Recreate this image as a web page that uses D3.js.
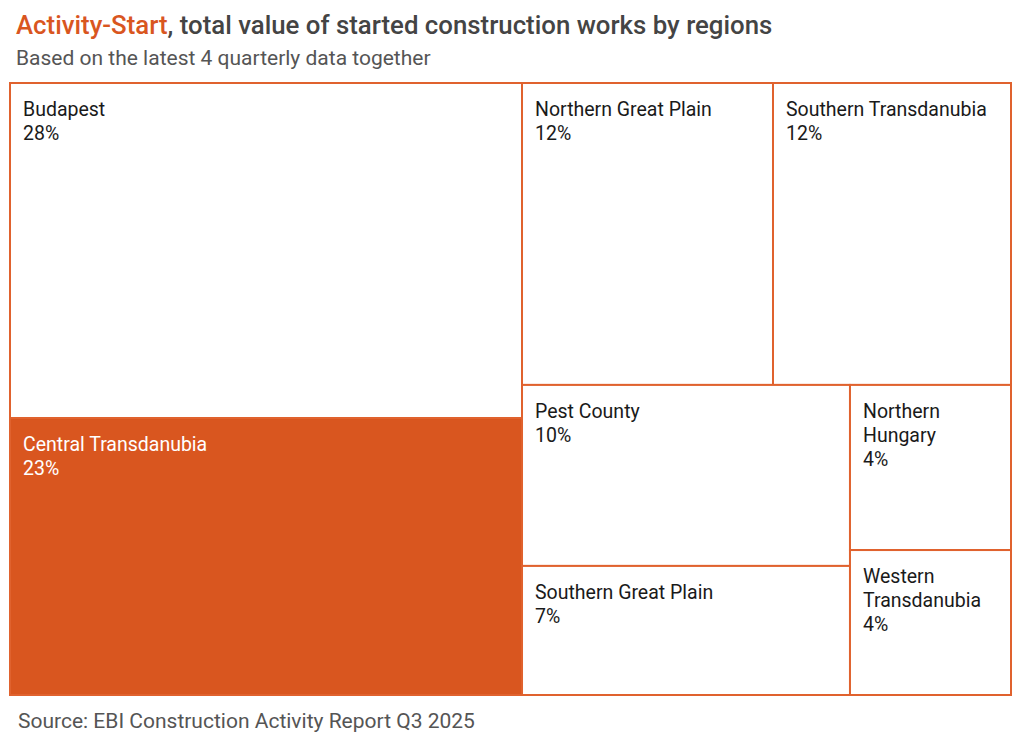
<!DOCTYPE html>
<html>
<head>
<meta charset="utf-8">
<script src="https://cdn.jsdelivr.net/npm/d3@7"></script>
<style>
  body { margin: 0; background: #fff; font-family: Roboto, "Noto Sans", sans-serif; }
</style>
</head>
<body>
<div id="wrapper"></div>
<script>
// shares in % (labels show them rounded)
const regions = ["Budapest", "Central Transdanubia", "Northern Great Plain", "Southern Transdanubia",
    "Pest County", "Southern Great Plain", "Northern Hungary", "Western Transdanubia"];
const shares = [28.0, 23.15, 12.37, 11.73, 9.69, 6.91, 4.34, 3.81];
const highlighted = ["Central Transdanubia"];

function buildChart() {
    const dimension = {
        width: 1024,
        height: 747,
        margin: { top: 83, left: 10, bottom: 52, right: 13 }
    };
    dimension.boundedWidth = dimension.width - dimension.margin.left - dimension.margin.right;
    dimension.boundedHeight = dimension.height - dimension.margin.top - dimension.margin.bottom;

    const orange = "#d9561f";

    const svg = d3.select("#wrapper").append("svg")
        .attr("width", dimension.width)
        .attr("height", dimension.height);

    // title
    const title = svg.append("text")
        .attr("x", 16).attr("y", 34)
        .style("font-size", "25.8px").style("font-weight", "500");
    title.append("tspan").attr("fill", orange).text("Activity-Start");
    title.append("tspan").attr("fill", "#444").text(", total value of started construction works by regions");

    svg.append("text")
        .attr("x", 16).attr("y", 65)
        .attr("fill", "#555")
        .style("font-size", "21px")
        .text("Based on the latest 4 quarterly data together");

    svg.append("text")
        .attr("x", 18).attr("y", 728)
        .attr("fill", "#555")
        .style("font-size", "21px")
        .text("Source: EBI Construction Activity Report Q3 2025");

    const data = regions.map((r, i) => ({ name: r, value: shares[i] }));
    const root = d3.hierarchy({ children: data })
        .sum(d => d.value || 0)
        .sort((a, b) => b.value - a.value);

    d3.treemap()
        .tile(d3.treemapSquarify)
        .size([dimension.boundedWidth, dimension.boundedHeight])(root);

    const bounded = svg.append("g")
        .attr("transform", `translate(${dimension.margin.left},${dimension.margin.top})`);

    const cell = bounded.selectAll("g.cell")
        .data(root.leaves())
        .join("g")
        .attr("class", "cell")
        .attr("transform", d => `translate(${d.x0},${d.y0})`);

    cell.append("rect")
        .attr("width", d => d.x1 - d.x0)
        .attr("height", d => d.y1 - d.y0)
        .attr("fill", d => highlighted.includes(d.data.name) ? orange : "#fff")
        .attr("stroke", "#e0622e")
        .attr("stroke-width", 2);

    // label with simple word wrapping
    cell.each(function (d) {
        const g = d3.select(this);
        const isHi = highlighted.includes(d.data.name);
        const txt = g.append("text")
            .attr("x", 13).attr("y", 33)
            .attr("fill", isHi ? "#fff" : "#1a1a1a")
            .style("font-size", "19.5px");
        const maxW = (d.x1 - d.x0) - 26;
        const words = d.data.name.split(" ");
        const lines = [];
        let line = [];
        const probe = txt.append("tspan");
        words.forEach(w => {
            line.push(w);
            probe.text(line.join(" "));
            if (probe.node().getComputedTextLength() > maxW && line.length > 1) {
                line.pop();
                lines.push(line.join(" "));
                line = [w];
            }
        });
        lines.push(line.join(" "));
        probe.remove();
        lines.push(Math.round(d.data.value) + "%");
        lines.forEach((l, i) => {
            txt.append("tspan").attr("x", 13).attr("dy", i === 0 ? 0 : 24).text(l);
        });
    });
}

buildChart();
</script>
</body>
</html>
